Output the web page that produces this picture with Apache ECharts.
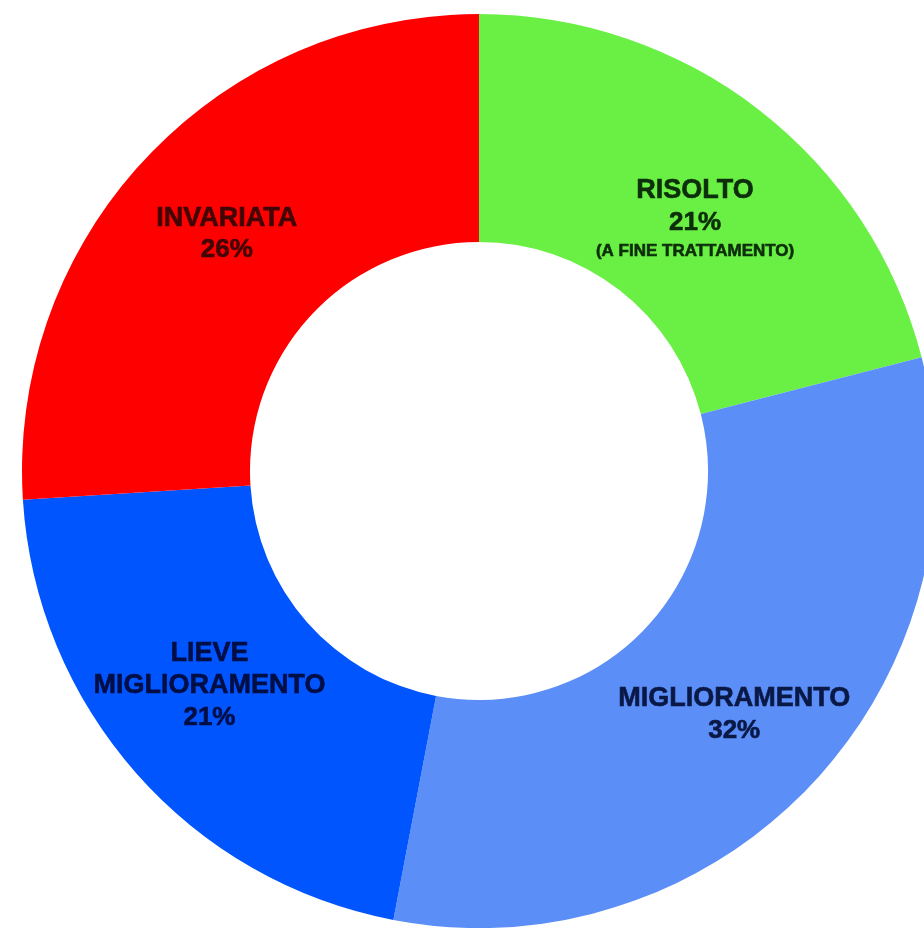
<!DOCTYPE html>
<html>
<head>
<meta charset="utf-8">
<script src="https://cdn.jsdelivr.net/npm/echarts@6/dist/echarts.min.js"></script>
<style>
  html, body { margin: 0; padding: 0; background: #ffffff; }
  #chart { width: 924px; height: 928px; }
</style>
</head>
<body>
<div id="chart"></div>
<script>
// Outcome categories, clockwise from 12 o'clock
const categories = ['RISOLTO', 'MIGLIORAMENTO', 'LIEVE\nMIGLIORAMENTO', 'INVARIATA'];
// Share of patients, percent
const values = [21, 32, 21, 26];
// Extra note printed under a slice's percentage
const notes = ['(A FINE TRATTAMENTO)', '', '', ''];

const sliceColors = ['#6aef45', '#5b8ef6', '#0055ff', '#ff0000'];
const textColors = ['#0c2e0a', '#0a1846', '#000e46', '#420505'];
const labelShift = [[4, 22], [3, 7], [-10, -14], [0, 0]];

function textStyle(size, lh, color) {
  return {
    fontSize: size, fontWeight: 'bold', lineHeight: lh, color: color,
    textBorderColor: color, textBorderWidth: 0.6,
    fontFamily: 'Liberation Sans, Arial, sans-serif'
  };
}

const data = categories.map((name, i) => ({
  name: name,
  value: values[i],
  note: notes[i],
  itemStyle: { color: sliceColors[i] },
  label: {
    offset: labelShift[i],
    rich: {
      n: textStyle(27, 32, textColors[i]),
      p: textStyle(26, 32, textColors[i]),
      s: textStyle(17, 26, textColors[i])
    }
  }
}));

const chart = echarts.init(document.getElementById('chart'), null, { renderer: 'canvas' });
chart.setOption({
  backgroundColor: '#ffffff',
  animation: false,
  series: [{
    type: 'pie',
    center: [479, 471],
    radius: [229, 457],
    startAngle: 90,
    clockwise: true,
    avoidLabelOverlap: false,
    emphasis: { disabled: true },
    itemStyle: { borderWidth: 0 },
    label: {
      show: true,
      position: 'inside',
      align: 'center',
      formatter: function (p) {
        const lines = p.name.split('\n').map(t => '{n|' + t + '}');
        lines.push('{p|' + p.value + '%}');
        if (p.data.note) lines.push('{s|' + p.data.note + '}');
        return lines.join('\n');
      }
    },
    labelLine: { show: false },
    data: data
  }]
});
</script>
</body>
</html>
